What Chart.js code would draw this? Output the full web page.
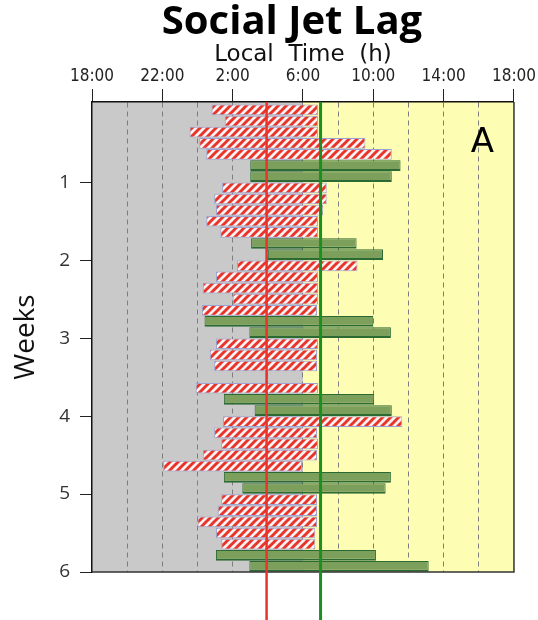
<!DOCTYPE html>
<html>
<head>
<meta charset="utf-8">
<title>Social Jet Lag</title>
<script src="https://cdn.jsdelivr.net/npm/chart.js@4.4.1/dist/chart.umd.min.js"></script>
<style>
  html, body { margin: 0; padding: 0; background: #fff; }
  #wrap { width: 538px; height: 620px; }
</style>
</head>
<body>
<div id="wrap"><canvas id="jetLagChart" width="538" height="620"></canvas></div>
<script>
// --- Data (hours after midnight of the day before: 24 = 0:00, 30 = 6:00) ---
const sleepOnset = [
    24.8, 25.55, 23.55, 24.1, 24.5, 27.0, 27.0,
    25.4, 24.95, 25.05, 24.5, 25.3, 27.05, 28.0,
    26.25, 25.05, 24.3, 26.0, 24.25, 24.4, 26.95,
    25.05, 24.7, 24.95, null, 23.9, 25.5, 27.25,
    25.45, 24.95, 25.35, 24.3, 22.05, 25.5, 26.55,
    25.35, 25.15, 24.0, 25.05, 25.35, 25.05, 26.95
];
const wakeUp = [
    30.85, 30.85, 30.85, 33.55, 35.05, 35.55, 35.05,
    31.35, 31.35, 31.15, 30.85, 30.85, 33.05, 34.55,
    33.1, 30.85, 30.85, 30.85, 30.8, 34.0, 35.0,
    30.85, 30.8, 30.8, null, 30.85, 34.05, 35.05,
    35.65, 30.8, 30.85, 30.8, 29.95, 35.0, 34.7,
    30.8, 30.8, 30.8, 30.7, 30.7, 34.15, 37.15
];
const freeWeekdays = [5, 6];              // day index inside each week (weekend)
const weekTicks = [1, 2, 3, 4, 5, 6];
const timeTickLabels = ['18:00', '22:00', '2:00', '6:00', '10:00', '14:00', '18:00'];
const nightBand = [18, 30];
const dayBand = [30, 42];
const midSleepWork = 27.93;
const midSleepFree = 31.0;

// --- Split the days into work days and free days ---
const dayPos = i => (i + 0.5) / 7;       // one row per day, 7 rows per week
const workDays = [];
const freeDays = [];
sleepOnset.forEach((start, i) => {
    if (start === null) return;
    const point = { y: dayPos(i), x: [start, wakeUp[i]] };
    if (freeWeekdays.includes(i % 7)) freeDays.push(point);
    else workDays.push(point);
});

// --- Red/white hatch for the work days ---
function makeHatch() {
    const c = document.createElement('canvas');
    c.width = 8; c.height = 8;
    const g = c.getContext('2d');
    g.fillStyle = '#fdf3f3';
    g.fillRect(0, 0, 8, 8);
    g.strokeStyle = '#e8352c';
    g.lineWidth = 3;
    [[-4, 4, 4, -4], [0, 8, 8, 0], [4, 12, 12, 4]].forEach(([a, b, c2, d]) => {
        g.beginPath(); g.moveTo(a, b); g.lineTo(c2, d); g.stroke();
    });
    return g.createPattern(c, 'repeat');
}
const hatch = makeHatch();

// --- Plugins: background bands, mid-sleep lines, frame and headings ---
const bandsPlugin = {
    id: 'bands',
    beforeDraw(chart) {
        const { ctx, chartArea: a, scales: { x } } = chart;
        ctx.save();
        ctx.fillStyle = '#c9c9c9';
        ctx.fillRect(x.getPixelForValue(nightBand[0]), a.top, x.getPixelForValue(nightBand[1]) - x.getPixelForValue(nightBand[0]), a.bottom - a.top);
        ctx.fillStyle = '#fdfdb3';
        ctx.fillRect(x.getPixelForValue(dayBand[0]), a.top, x.getPixelForValue(dayBand[1]) - x.getPixelForValue(dayBand[0]), a.bottom - a.top);
        ctx.restore();
    }
};

const overlayPlugin = {
    id: 'overlay',
    afterDatasetsDraw(chart) {
        const { ctx, chartArea: a, scales: { x } } = chart;
        ctx.save();
        // frame (bottom and right)
        ctx.strokeStyle = '#333';
        ctx.lineWidth = 1.5;
        ctx.beginPath();
        ctx.moveTo(a.left, a.bottom); ctx.lineTo(a.right, a.bottom); ctx.lineTo(a.right, a.top);
        ctx.stroke();
        // mid-sleep lines, running past the plot
        [[midSleepWork, '#e8342b', 2.5], [midSleepFree, '#1b8f1f', 3]].forEach(([v, col, w]) => {
            const px = x.getPixelForValue(v);
            ctx.strokeStyle = col;
            ctx.lineWidth = w;
            ctx.beginPath();
            ctx.moveTo(px, a.top);
            ctx.lineTo(px, chart.height);
            ctx.stroke();
        });
        ctx.restore();
    },
    afterDraw(chart) {
        const { ctx, chartArea: a } = chart;
        ctx.save();
        ctx.fillStyle = '#000';
        ctx.textAlign = 'center';
        ctx.textBaseline = 'alphabetic';
        ctx.font = "bold 40px 'Open Sans', sans-serif";
        ctx.fillText('Social Jet Lag', (a.left + a.right) / 2 - 11, 34);
        ctx.textAlign = 'right';
        ctx.font = "34px 'DejaVu Sans', sans-serif";
        ctx.fillText('A', a.right - 20, a.top + 50);
        ctx.restore();
    }
};

// --- Chart ---
const ctx = document.getElementById('jetLagChart').getContext('2d');
new Chart(ctx, {
    type: 'bar',
    data: {
        datasets: [
            {
                label: 'Work days',
                data: workDays,
                backgroundColor: hatch,
                borderColor: '#9ca3d2',
                borderWidth: 1,
                borderSkipped: false
            },
            {
                label: 'Free days',
                data: freeDays,
                backgroundColor: '#7c9f5b',
                borderColor: '#2c6a33',
                borderWidth: { top: 1, left: 1, right: 1, bottom: 2 },
                borderSkipped: false
            }
        ]
    },
    options: {
        indexAxis: 'y',
        responsive: false,
        animation: false,
        grouped: false,
        barPercentage: 0.96,
        categoryPercentage: 1,
        layout: { padding: { top: 40, right: 20, bottom: 48, left: 0 } },
        plugins: {
            legend: { display: false },
            tooltip: { enabled: false }
        },
        scales: {
            x: {
                type: 'linear',
                position: 'top',
                min: 18,
                max: 42,
                afterFit: s => { s.height = 62; },
                ticks: {
                    stepSize: 2,
                    autoSkip: false,
                    maxRotation: 0,
                    padding: 2,
                    color: '#222',
                    font: { family: "'DejaVu Sans Condensed', sans-serif", size: 17 },
                    callback: v => ((v - 18) % 4 === 0 ? timeTickLabels[(v - 18) / 4] : '')
                },
                grid: {
                    color: c => (c.tick && (c.tick.value === 18 || c.tick.value === 42) ? 'transparent' : '#7d7d7d'),
                    lineWidth: 1,
                    tickColor: c => (c.tick && (c.tick.value - 18) % 4 === 0 ? '#222' : 'transparent'),
                    tickLength: 13,
                    tickBorderDash: []
                },
                border: { color: '#111', width: 1.5, dash: [5, 4] },
                title: {
                    display: true,
                    text: 'Local  Time  (h)',
                    color: '#111',
                    font: { family: "'DejaVu Sans', sans-serif", size: 23 },
                    padding: { top: 1, bottom: 0 }
                }
            },
            y: {
                type: 'linear',
                position: 'left',
                reverse: true,
                offset: false,
                min: -0.03,
                max: 6,
                afterFit: s => { s.width = 92; },
                afterBuildTicks: s => { s.ticks = weekTicks.map(v => ({ value: v })); },
                ticks: {
                    padding: 10,
                    color: '#333',
                    font: { family: "'Open Sans', sans-serif", size: 19 },
                    callback: v => String(v)
                },
                grid: {
                    offset: false,
                    drawOnChartArea: false,
                    tickLength: 12,
                    tickColor: '#222'
                },
                border: { color: '#111', width: 1.5 },
                title: {
                    display: true,
                    text: 'Weeks',
                    color: '#111',
                    font: { family: "'Open Sans', sans-serif", size: 28 },
                    padding: { top: 9, bottom: 0 }
                }
            }
        }
    },
    plugins: [bandsPlugin, overlayPlugin]
});
</script>
</body>
</html>
